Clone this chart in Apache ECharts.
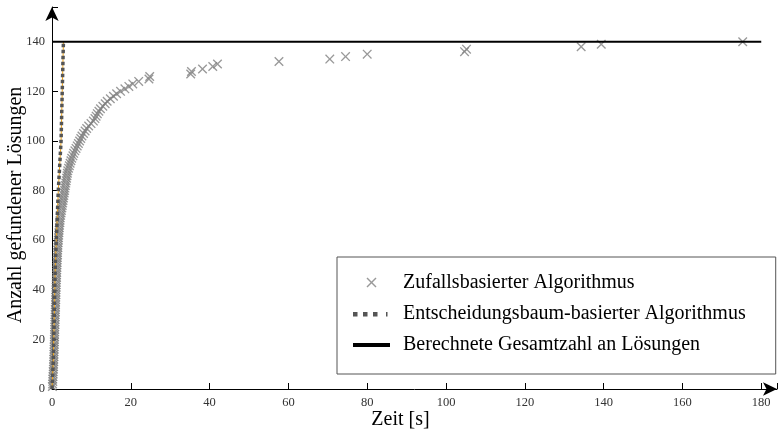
<!DOCTYPE html>
<html>
<head>
<meta charset="utf-8">
<script src="https://cdn.jsdelivr.net/npm/echarts@6/dist/echarts.min.js"></script>
<style>
  html, body { margin: 0; padding: 0; background: #fff; }
  #chart { width: 778px; height: 433px; }
</style>
</head>
<body>
<div id="chart"></div>
<script>
// Zufallsbasierter Algorithmus: Zeit [s] fuer jede weitere gefundene Loesung (1..140)
var randomTimes = [
    0.1, 0.15, 0.2, 0.2, 0.25, 0.3, 0.3, 0.35, 0.4, 0.4,
    0.45, 0.45, 0.5, 0.5, 0.5, 0.55, 0.55, 0.6, 0.6, 0.6,
    0.65, 0.65, 0.7, 0.7, 0.7, 0.75, 0.75, 0.8, 0.8, 0.8,
    0.85, 0.85, 0.9, 0.9, 0.9, 0.95, 0.95, 1.0, 1.0, 1.0,
    1.05, 1.05, 1.1, 1.1, 1.15, 1.15, 1.2, 1.2, 1.25, 1.25,
    1.3, 1.3, 1.35, 1.4, 1.4, 1.45, 1.5, 1.5, 1.55, 1.6,
    1.65, 1.7, 1.75, 1.8, 1.85, 1.9, 2.0, 2.05, 2.1, 2.2,
    2.3, 2.4, 2.5, 2.6, 2.7, 2.8, 2.9, 3.0, 3.1, 3.2,
    3.3, 3.4, 3.5, 3.6, 3.7, 3.8, 3.9, 4.0, 4.2, 4.4,
    4.6, 4.8, 5.0, 5.3, 5.5, 5.8, 6.1, 6.4, 6.7, 7.0,
    7.3, 7.6, 8.0, 8.4, 8.8, 9.3, 9.9, 10.5, 10.9, 11.2,
    11.5, 11.9, 12.3, 12.9, 13.5, 14.0, 14.8, 15.6, 16.4, 17.4,
    18.5, 19.5, 20.5, 22.0, 24.6, 24.8, 35.2, 35.4, 38.2, 40.8,
    42.0, 57.6, 70.5, 74.5, 80.0, 104.7, 105.2, 134.3, 139.4, 175.3
];
var randomCounts = randomTimes.map(function (t, i) { return i + 1; });

// Entscheidungsbaum-basierter Algorithmus
var treeTimes  = [0, 0.3, 0.45, 0.6, 0.7, 0.85, 1.1, 1.35, 1.6, 1.95, 2.3, 2.45, 2.6, 2.75, 2.9];
var treeCounts = [0, 10, 20, 30, 40, 50, 60, 70, 80, 90, 100, 110, 120, 130, 140];

// Berechnete Gesamtzahl an Loesungen
var totalTimes  = [0, 180];
var totalCounts = [140, 140];

var xTicks = [0, 20, 40, 60, 80, 100, 120, 140, 160, 180];
var yTicks = [0, 20, 40, 60, 80, 100, 120, 140];

var names = [
    'Zufallsbasierter Algorithmus',
    'Entscheidungsbaum-basierter Algorithmus',
    'Berechnete Gesamtzahl an Lösungen'
];

function zip(xs, ys) {
    return xs.map(function (x, i) { return [x, ys[i]]; });
}

var cross = 'path://M0,1L1,0L5,4L9,0L10,1L6,5L10,9L9,10L5,6L1,10L0,9L4,5Z';
// legend icons (the leading moves keep the 37x12 box)
var crossIcon = 'path://M0,0M37,12M13.5,1.5L14.5,0.5L18.5,4.5L22.5,0.5L23.5,1.5L19.5,5.5L23.5,9.5L22.5,10.5L18.5,6.5L14.5,10.5L13.5,9.5L17.5,5.5Z';
var dotIcon = 'path://M0,0M37,12M0,4h4.5v4.5h-4.5ZM10,4h4.5v4.5h-4.5ZM20,4h4.5v4.5h-4.5ZM33,4h1.5v4.5h-1.5Z';
var barIcon = 'path://M0,0M37,12M0,4H37V8H0Z';
var font = 'Liberation Serif';

var option = {
    animation: false,
    textStyle: {fontFamily: font},
    grid: {left: 52, right: 1, top: 7, bottom: 44, outerBoundsMode: 'none', containLabel: false},
    xAxis: {
        type: 'value',
        min: 0,
        max: 184,
        interval: 20,
        name: 'Zeit [s]',
        nameLocation: 'middle',
        nameGap: 21,
        nameMoveOverlap: false,
        nameTextStyle: {fontFamily: font, fontSize: 20, color: '#000', padding: [0, 28, 0, 0]},
        axisLine: {lineStyle: {color: '#000', width: 1}, symbol: ['none', 'arrow'], symbolSize: [10, 14]},
        axisTick: {inside: true, length: 6, lineStyle: {color: '#000'}},
        axisLabel: {
            fontFamily: font, fontSize: 12.5, color: '#333', margin: 7,
            formatter: function (v) { return xTicks.indexOf(v) >= 0 ? String(v) : ''; }
        },
        splitLine: {show: false}
    },
    yAxis: {
        type: 'value',
        min: 0,
        max: 154,
        interval: 20,
        name: 'Anzahl gefundener Lösungen',
        nameLocation: 'middle',
        nameGap: 26,
        nameMoveOverlap: false,
        nameTextStyle: {fontFamily: font, fontSize: 20, color: '#000', padding: [0, 14, 0, 0]},
        axisLine: {lineStyle: {color: '#000', width: 1}, symbol: ['none', 'arrow'], symbolSize: [10, 14]},
        axisTick: {inside: true, length: 6, lineStyle: {color: '#000'}},
        axisLabel: {
            fontFamily: font, fontSize: 12.5, color: '#333', margin: 7,
            formatter: function (v) { return yTicks.indexOf(v) >= 0 ? String(v) : ''; }
        },
        splitLine: {show: false}
    },
    legend: {
        orient: 'vertical',
        left: 337,
        top: 257,
        padding: [16, 30, 19, 16],
        itemGap: 11,
        itemWidth: 37,
        itemHeight: 12,
        borderColor: '#555',
        borderWidth: 1,
        textStyle: {fontFamily: font, fontSize: 20, color: '#000', lineHeight: 20, padding: [0, 0, 0, 8]},
        data: [
            {name: names[0], icon: crossIcon},
            {name: names[1], icon: dotIcon},
            {name: names[2], icon: barIcon}
        ]
    },
    series: [
        {
            name: names[0],
            type: 'scatter',
            data: zip(randomTimes, randomCounts),
            symbol: cross,
            symbolSize: 9.5,
            symbolKeepAspect: true,
            itemStyle: {color: '#808080'},
            z: 2
        },
        {
            name: 'verlauf',
            type: 'line',
            data: zip(treeTimes, treeCounts),
            showSymbol: false,
            symbol: 'none',
            lineStyle: {color: '#f2a71b', width: 1},
            z: 3
        },
        {
            name: names[1],
            type: 'line',
            data: zip(treeTimes, treeCounts),
            showSymbol: false,
            symbol: 'none',
            lineStyle: {color: '#555', width: 3.5, type: [3.5, 2.5]},
            itemStyle: {color: '#555'},
            z: 4
        },
        {
            name: names[2],
            type: 'line',
            data: zip(totalTimes, totalCounts),
            showSymbol: false,
            symbol: 'none',
            lineStyle: {color: '#000', width: 2},
            itemStyle: {color: '#000'},
            z: 5
        }
    ]
};

var myChart = echarts.init(document.getElementById('chart'));
myChart.setOption(option, true);
</script>
</body>
</html>
